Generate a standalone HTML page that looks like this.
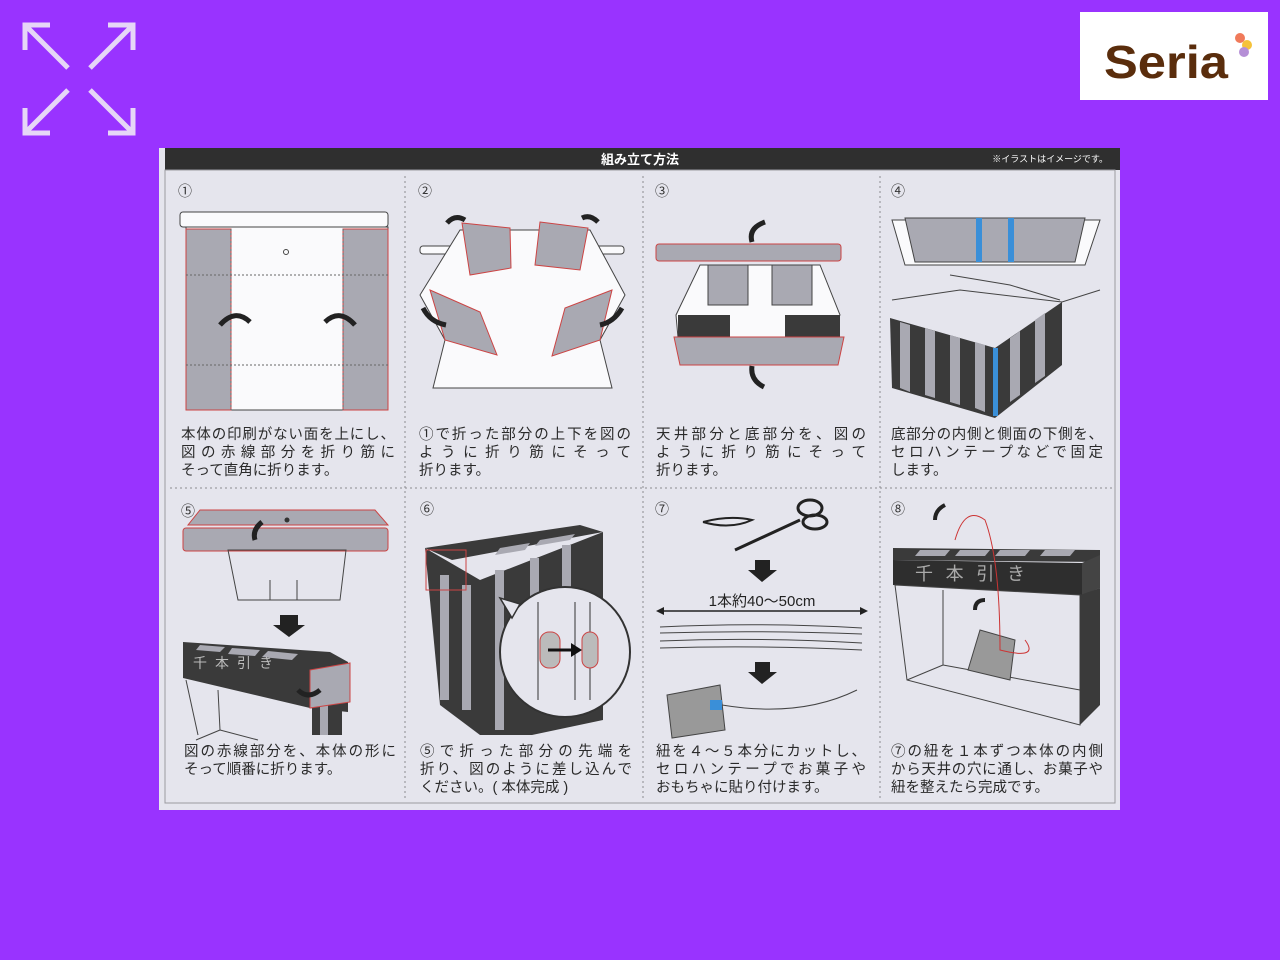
<!DOCTYPE html>
<html><head><meta charset="utf-8"><style>
html,body{margin:0;padding:0;background:#9933ff;width:1280px;height:960px;overflow:hidden}
svg text{font-family:"Liberation Sans","Noto Sans CJK JP",sans-serif}
</style></head><body>
<svg width="1280" height="960" viewBox="0 0 1280 960" xmlns="http://www.w3.org/2000/svg">
<!-- expand icon -->
<g fill="none" stroke="#e6d6f7" stroke-width="5">
<polyline points="25,50 25,25 50,25"/><line x1="27" y1="27" x2="68" y2="68"/>
<polyline points="133,50 133,25 108,25"/><line x1="131" y1="27" x2="90" y2="68"/>
<polyline points="25,108 25,133 50,133"/><line x1="27" y1="131" x2="68" y2="90"/>
<polyline points="133,108 133,133 108,133"/><line x1="131" y1="131" x2="90" y2="90"/>
</g>
<!-- logo -->
<rect x="1080" y="12" width="188" height="88" fill="#fff"/>
<text x="1104" y="78" font-size="46" font-weight="bold" fill="#5a2d0c" textLength="124" lengthAdjust="spacingAndGlyphs">Seria</text>
<circle cx="1240" cy="38" r="5" fill="#f07a5a"/><circle cx="1247" cy="45" r="5" fill="#f5c23a"/><circle cx="1244" cy="52" r="5" fill="#b58fd6"/>
<!-- panel -->
<rect x="159" y="148" width="961" height="662" fill="#e5e5ed"/>
<rect x="165" y="148" width="955" height="22" fill="#2f2f2f"/>
<text x="640" y="164" font-size="13" font-weight="bold" fill="#fff" text-anchor="middle">組み立て方法</text>
<text x="1108" y="162" font-size="9" fill="#fff" text-anchor="end">※イラストはイメージです。</text>
<rect x="165" y="170" width="950" height="633" fill="none" stroke="#9a9aa0" stroke-width="1"/>
<g stroke="#8a8a90" stroke-dasharray="2,3" stroke-width="1">
<line x1="405" y1="176" x2="405" y2="800"/><line x1="643" y1="176" x2="643" y2="800"/><line x1="880" y1="176" x2="880" y2="800"/>
<line x1="170" y1="488" x2="1112" y2="488"/>
</g>
<g font-size="14" fill="#333">
<text x="178" y="196">①</text><text x="418" y="196">②</text><text x="655" y="196">③</text><text x="891" y="196">④</text>
<text x="181" y="516">⑤</text><text x="420" y="514">⑥</text><text x="655" y="514">⑦</text><text x="891" y="514">⑧</text>
</g>
<!-- captions -->
<g font-size="14.5" fill="#2a2a2a">
<text x="181" y="439" textLength="214" lengthAdjust="spacing">本体の印刷がない面を上にし、</text>
<text x="181" y="457" textLength="214" lengthAdjust="spacing">図の赤線部分を折り筋に</text>
<text x="181" y="475">そって直角に折ります。</text>
<text x="419" y="439" textLength="212" lengthAdjust="spacing">①で折った部分の上下を図の</text>
<text x="419" y="457" textLength="212" lengthAdjust="spacing">ように折り筋にそって</text>
<text x="419" y="475">折ります。</text>
<text x="656" y="439" textLength="210" lengthAdjust="spacing">天井部分と底部分を、図の</text>
<text x="656" y="457" textLength="210" lengthAdjust="spacing">ように折り筋にそって</text>
<text x="656" y="475">折ります。</text>
<text x="891" y="439" textLength="212" lengthAdjust="spacing">底部分の内側と側面の下側を、</text>
<text x="891" y="457" textLength="212" lengthAdjust="spacing">セロハンテープなどで固定</text>
<text x="891" y="475">します。</text>
<text x="184" y="756" textLength="212" lengthAdjust="spacing">図の赤線部分を、本体の形に</text>
<text x="184" y="774">そって順番に折ります。</text>
<text x="420" y="756" textLength="212" lengthAdjust="spacing">⑤で折った部分の先端を</text>
<text x="420" y="774" textLength="212" lengthAdjust="spacing">折り、図のように差し込んで</text>
<text x="420" y="792">ください。( 本体完成 )</text>
<text x="656" y="756" textLength="210" lengthAdjust="spacing">紐を４～５本分にカットし、</text>
<text x="656" y="774" textLength="210" lengthAdjust="spacing">セロハンテープでお菓子や</text>
<text x="656" y="792">おもちゃに貼り付けます。</text>
<text x="891" y="756" textLength="212" lengthAdjust="spacing">⑦の紐を１本ずつ本体の内側</text>
<text x="891" y="774" textLength="212" lengthAdjust="spacing">から天井の穴に通し、お菓子や</text>
<text x="891" y="792">紐を整えたら完成です。</text>
</g>
<!-- cell1 -->
<g stroke="#444" stroke-width="1" fill="#fafafc">
<rect x="180" y="212" width="208" height="15" rx="3"/>
<rect x="186" y="227" width="202" height="183"/>
</g>
<g fill="#a9a9b2" stroke="#c44" stroke-width="1"><rect x="186" y="229" width="45" height="181"/><rect x="343" y="229" width="45" height="181"/></g>
<g stroke="#666" stroke-dasharray="2,2"><line x1="186" y1="275" x2="388" y2="275"/><line x1="186" y1="365" x2="388" y2="365"/><line x1="231" y1="229" x2="231" y2="410"/><line x1="343" y1="229" x2="343" y2="410"/></g>
<circle cx="286" cy="252" r="2.5" fill="none" stroke="#444"/>
<path d="M220,325 Q235,308 250,322" stroke="#222" stroke-width="5" fill="none"/>
<path d="M355,325 Q340,308 325,322" stroke="#222" stroke-width="5" fill="none"/>
<!-- cell2 -->
<g stroke="#444" fill="#fafafc"><rect x="420" y="246" width="204" height="8" rx="3"/>
<polygon points="460,230 590,230 625,295 600,340 612,388 433,388 445,340 420,295"/></g>
<g fill="#a9a9b2" stroke="#c44"><polygon points="462,223 510,228 511,268 470,275"/><polygon points="540,222 588,228 580,270 535,265"/>
<polygon points="430,290 480,312 497,355 445,340"/><polygon points="612,290 565,308 552,356 600,340"/></g>
<g stroke="#222" stroke-width="5" fill="none"><path d="M447,223 Q455,214 465,220"/><path d="M598,222 Q590,214 582,218"/><path d="M423,308 Q430,322 446,325"/><path d="M622,308 Q614,322 600,325"/></g>
<!-- cell3 -->
<g stroke="#444" fill="#fafafc"><polygon points="700,265 820,265 840,315 815,360 680,360 676,315"/></g>
<rect x="656" y="244" width="185" height="17" rx="3" fill="#a9a9b2" stroke="#c44"/>
<g fill="#a9a9b2" stroke="#444"><rect x="708" y="265" width="40" height="40"/><rect x="772" y="265" width="40" height="40"/></g>
<g fill="#3a3a3a"><polygon points="678,315 730,315 730,338 678,338"/><polygon points="785,315 840,315 840,338 785,338"/></g>
<polygon points="674,337 844,337 838,365 680,365" fill="#a9a9b2" stroke="#c44"/>
<g stroke="#222" stroke-width="5" fill="none"><path d="M765,222 Q748,228 752,242"/><path d="M764,387 Q750,380 752,366"/></g>
<!-- cell4 -->
<g stroke="#444" fill="#fafafc"><polygon points="892,220 1100,220 1085,265 905,265"/></g>
<polygon points="905,218 1085,218 1075,262 915,262" fill="#a9a9b2" stroke="#444"/>
<rect x="976" y="218" width="6" height="44" fill="#3a8fd8"/><rect x="1008" y="218" width="6" height="44" fill="#3a8fd8"/>
<g stroke="#444" fill="none"><path d="M892,300 L960,290 L1062,302 L1100,290"/><path d="M950,275 L1010,285 L1060,300"/></g>
<polygon points="890,318 995,348 995,418 892,388" fill="#3a3a3a"/>
<polygon points="995,348 1062,302 1062,365 995,418" fill="#3a3a3a"/>
<g fill="#a9a9b2"><polygon points="900,322 910,325 910,392 900,388"/><polygon points="925,328 935,331 935,398 925,395"/><polygon points="950,335 960,338 960,405 950,402"/><polygon points="975,342 985,345 985,412 975,408"/>
<polygon points="1010,338 1020,331 1020,395 1010,402"/><polygon points="1035,320 1045,313 1045,376 1035,383"/></g>
<rect x="993" y="348" width="5" height="68" fill="#3a8fd8"/>
<!-- cell5 -->
<polygon points="200,510 375,510 388,525 188,525" fill="#a9a9b2" stroke="#c44"/>
<circle cx="287" cy="520" r="2.5" fill="#333"/>
<rect x="183" y="528" width="205" height="23" rx="3" fill="#a9a9b2" stroke="#c44"/>
<g stroke="#444" fill="none"><polygon points="228,550 346,550 340,600 238,600"/><line x1="270" y1="580" x2="270" y2="600"/><line x1="297" y1="580" x2="297" y2="600"/></g>
<path d="M262,522 Q252,530 255,540" stroke="#222" stroke-width="5" fill="none"/>
<polygon points="280,615 298,615 298,625 305,625 289,637 273,625 280,625" fill="#222"/>
<g stroke="#444" fill="none"><path d="M186,680 L198,735"/><path d="M218,690 L220,730 L196,740 M220,730 L258,740"/></g>
<polygon points="183,642 330,652 348,662 348,712 310,708 183,678" fill="#3a3a3a"/>
<rect x="312" y="680" width="30" height="55" fill="#3a3a3a"/>
<rect x="320" y="680" width="8" height="55" fill="#a9a9b2"/>
<polygon points="310,670 350,663 350,702 310,708" fill="#a9a9b2" stroke="#c44"/>
<g fill="#a9a9b2"><polygon points="200,645 225,647 220,652 196,650"/><polygon points="232,648 260,650 255,656 228,654"/><polygon points="268,651 298,654 292,660 262,657"/></g>
<text x="193" y="668" font-size="14" fill="#bbb" textLength="80">千本引き</text>
<path d="M320,690 Q308,700 298,690" stroke="#222" stroke-width="5" fill="none"/>
<!-- cell6 -->
<polygon points="425,548 580,525 603,532 452,560" fill="#3a3a3a"/>
<polygon points="425,548 480,580 480,735 440,705" fill="#3a3a3a"/>
<polygon points="480,580 603,532 603,720 532,735 480,735" fill="#3a3a3a"/>
<g fill="#a9a9b2"><rect x="440" y="575" width="9" height="125"/><rect x="462" y="585" width="9" height="125"/><rect x="495" y="570" width="9" height="160"/><rect x="530" y="558" width="9" height="80"/><rect x="562" y="545" width="9" height="60"/>
<polygon points="500,548 530,543 525,550 495,555"/><polygon points="540,540 575,534 570,540 535,546"/></g>
<rect x="426" y="550" width="40" height="40" fill="none" stroke="#c44"/>
<circle cx="565" cy="652" r="65" fill="#e5e5ed" stroke="#333" stroke-width="2"/>
<polygon points="500,598 520,604 512,618" fill="#e5e5ed" stroke="#333" stroke-width="1.5"/>
<g stroke="#333" fill="none"><line x1="538" y1="602" x2="538" y2="700"/><line x1="575" y1="602" x2="575" y2="700"/><line x1="590" y1="602" x2="590" y2="700"/></g>
<rect x="540" y="632" width="20" height="36" rx="9" fill="#bbb" stroke="#c44"/><rect x="582" y="632" width="16" height="36" rx="8" fill="#bbb" stroke="#c44"/>
<line x1="548" y1="650" x2="574" y2="650" stroke="#111" stroke-width="3"/><polygon points="582,650 571,643 571,657" fill="#111"/>
<!-- cell7 -->
<path d="M703,522 Q730,515 752,520 Q730,530 703,522" stroke="#222" fill="none" stroke-width="2"/>
<g stroke="#222" stroke-width="3" fill="none"><line x1="735" y1="550" x2="800" y2="520"/><ellipse cx="810" cy="508" rx="12" ry="8"/><ellipse cx="815" cy="522" rx="12" ry="7"/></g>
<polygon points="755,560 770,560 770,570 777,570 762,582 748,570 755,570" fill="#222"/>
<polygon points="755,662 770,662 770,672 777,672 762,684 748,672 755,672" fill="#222"/>
<text x="762" y="606" font-size="15" fill="#222" text-anchor="middle">1本約40～50cm</text>
<line x1="660" y1="611" x2="864" y2="611" stroke="#222" stroke-width="1.5"/>
<polygon points="656,611 664,607 664,615" fill="#222"/><polygon points="868,611 860,607 860,615" fill="#222"/>
<g stroke="#444" fill="none"><path d="M660,627 Q760,622 862,628"/><path d="M660,633 Q760,630 862,634"/><path d="M660,641 Q760,637 862,643"/><path d="M660,648 Q760,645 862,650"/></g>
<polygon points="667,695 720,685 725,730 672,738" fill="#999" stroke="#444"/>
<rect x="710" y="700" width="12" height="10" fill="#3a8fd8"/>
<path d="M722,705 Q800,718 857,690" stroke="#444" fill="none"/>
<!-- cell8 -->
<path d="M945,505 Q935,510 935,520" stroke="#222" stroke-width="4" fill="none"/>
<polygon points="893,548 1100,550 1100,562 893,560" fill="#3a3a3a"/>
<polygon points="893,560 1082,563 1082,595 893,585" fill="#2e2e2e"/>
<polygon points="1082,563 1100,555 1100,588 1082,595" fill="#444"/>
<text x="915" y="580" font-size="18" fill="#aaa" textLength="110">千本引き</text>
<g fill="#a9a9b2"><polygon points="920,550 950,550 945,556 915,556"/><polygon points="960,550 990,550 985,556 955,556"/><polygon points="1000,550 1030,550 1025,556 995,556"/><polygon points="1045,550 1075,550 1070,556 1040,556"/></g>
<g stroke="#444" fill="none"><polygon points="895,585 1080,595 1080,725 907,680"/><polyline points="943,590 943,665 907,680"/><line x1="943" y1="665" x2="1080" y2="690"/></g>
<polygon points="1080,595 1100,588 1100,705 1080,725" fill="#3a3a3a"/>
<polygon points="980,630 1015,640 1010,680 968,670" fill="#999" stroke="#444"/>
<path d="M955,540 Q965,505 985,520 Q1000,560 1000,650 Q1040,660 1025,640" stroke="#c33" fill="none"/>
<path d="M975,610 Q975,600 985,600" stroke="#222" stroke-width="4" fill="none"/>
</svg>
</body></html>
